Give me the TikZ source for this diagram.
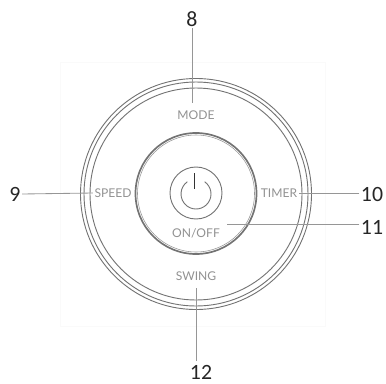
\documentclass[tikz,border=0pt]{standalone}
\usepackage{fontspec}
\setmainfont{Carlito}
\newfontfamily\panelfont{Lato}
\usepackage{tikz}
\usetikzlibrary{positioning}
\definecolor{grisTrait}{RGB}{150,150,150}
\definecolor{grisAnneau}{RGB}{115,115,115}
\definecolor{grisTexte}{RGB}{145,145,145}
\definecolor{grisCadre}{RGB}{250,250,250}
\tikzset{
  numero/.style={font=\fontsize{15.5}{15.5}\selectfont,text=black!85,inner sep=1pt},
  touche/.style={font=\panelfont\fontsize{8.6}{10}\selectfont,text=grisTexte,inner sep=1pt},
  renvoi/.style={grisTrait,line width=0.6pt},
  anneau/.style={grisAnneau,line width=0.65pt}
}
\begin{document}
\begin{tikzpicture}[x=0.025cm,y=0.025cm]
  \useasboundingbox (0,0) rectangle (386,383);
  % Cadre
  \draw[grisCadre,line width=0.4pt] (60,57) rectangle (325,321);

  % Anneaux
  \draw[anneau] (196,189) circle (115.5);
  \draw[anneau] (196,189) circle (112);
  \draw[anneau] (196,189) circle (106);
  \draw[grisAnneau,line width=1.2pt] (196,189.5) circle (60.5);
  \draw[grisTrait,line width=0.4pt] (196,189.5) circle (58.5);

  % Bouton
  \draw[anneau] (196,190) circle (26);
  \draw[anneau] (196,189) ++(55:15) arc (55:-235:15);
  \draw[black!80,line width=1.1pt] (194.5,210) -- (194.5,194);

  % Touches
  \node[touche] (mode) at (196,268) {MODE};
  \node[touche] (speed) at (113,190) {SPEED};
  \node[touche] (timer) at (279,190) {TIMER};
  \node[touche] (onoff) at (196,150) {ON/OFF};
  \node[touche] (swing) at (196,107) {SWING};

  % Numeros
  \node[numero] (n8) at (192,364) {8};
  \node[numero] (n9) at (15,189) {9};
  \node[numero] (n10) at (372,189) {10};
  \node[numero] (n11) at (372,156) {11};
  \node[numero] (n12) at (201,11) {12};
  \coordinate (pt11) at (227,159);
  \coordinate (pt12) at (196,22);

  % Renvois
  \draw[renvoi,shorten >=4pt] (n8.south) -- (n8.south |- mode.north);
  \draw[renvoi] (n9.east) -- (speed.west);
  \draw[renvoi] (n10.west |- timer.east) -- (timer.east);
  \draw[renvoi] (n11.west |- pt11) -- (pt11);
  \draw[renvoi,shorten >=4pt] (pt12) -- (swing.south);
\end{tikzpicture}
\end{document}
